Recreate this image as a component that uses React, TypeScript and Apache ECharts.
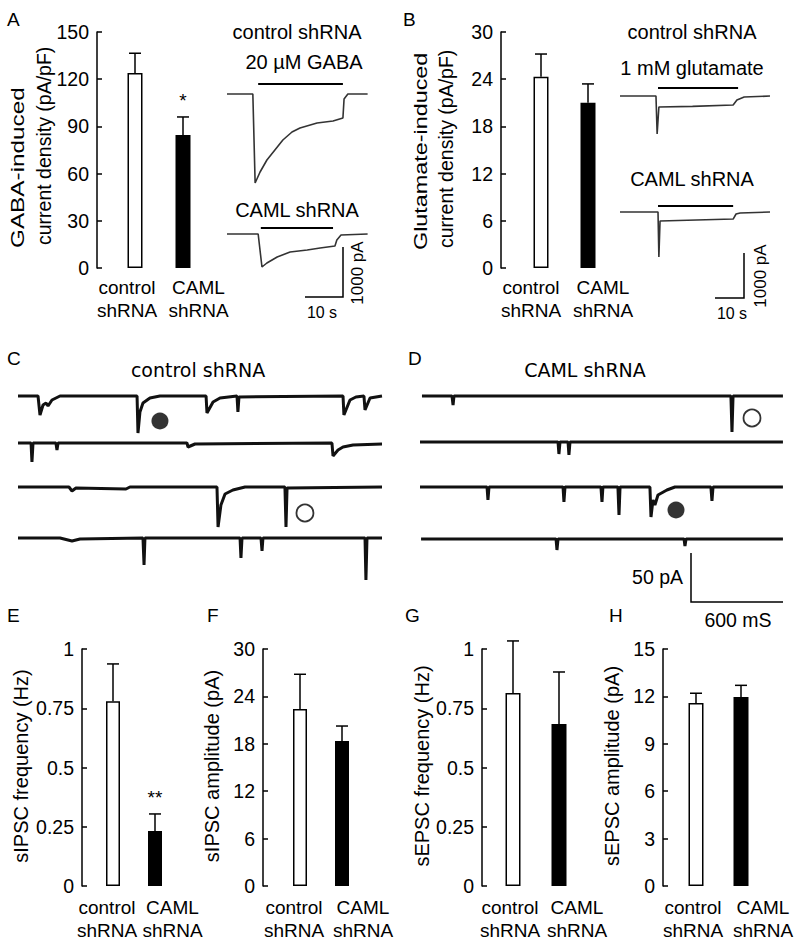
import React, { useEffect, useRef } from "react";
import * as echarts from "echarts";

// ---------- bar chart data ----------
const barCategories = ["control shRNA", "CAML shRNA"];
const gabaDensity = [124, 84.5];
const gabaDensityErr = [136.5, 96];
const gabaMarks = ["", "*"];
const gluDensity = [24.3, 21.0];
const gluDensityErr = [27.2, 23.4];
const sipscFreq = [0.78, 0.232];
const sipscFreqErr = [0.937, 0.304];
const sipscFreqMarks = ["", "**"];
const sipscAmp = [22.4, 18.35];
const sipscAmpErr = [26.8, 20.25];
const sepscFreq = [0.814, 0.684];
const sepscFreqErr = [1.034, 0.903];
const sepscAmp = [11.58, 11.96];
const sepscAmpErr = [12.2, 12.7];
const noMarks = ["", ""];

// ---------- current traces (time, current) ----------
// A: GABA responses (s, pA)
const aCtrlTrace = [[0, 0], [6.8, 0], [7.4, -1780], [8.7, -1560], [10.5, -1320], [12.6, -1120], [14.7, -920], [17.1, -760], [19.2, -680], [23.7, -580], [27.9, -540], [30.5, -480], [30.8, -100], [31.8, 0], [37, 0]];
const aCamlTrace = [[0, 0], [8.2, 0], [9.2, -660], [10.5, -580], [13.2, -460], [16.6, -360], [21.1, -320], [24.5, -280], [28.4, -240], [28.9, -120], [30.0, -20], [37, 0]];
const aCtrlDrug = [[8.2, 200], [30.5, 200]];
const aCamlDrug = [[8.9, 120], [27.9, 120]];
// B: glutamate responses (s, pA)
const bCtrlTrace = [[0, 0], [12.4, 0], [12.8, -844], [13.4, -244], [25, -230], [39.0, -200], [40.3, -89], [42.8, -22], [51.7, 0]];
const bCamlTrace = [[0, 0], [13.1, 0], [13.4, -1000], [13.8, -200], [39.0, -156], [40.0, -44], [41.4, -22], [51.7, 0]];
const bCtrlDrug = [[13.1, 178], [40.7, 178]];
const bCamlDrug = [[13.1, 133], [39.0, 133]];
// C: control shRNA spontaneous currents (ms, pA)
const cRow1 = [[0, 0], [132, 0], [145, -19], [165, -9], [185, -7], [198, -10], [224, -4], [277, 0], [785, 0], [791, -37], [804, -16], [824, -7], [870, -2], [936, 0], [1240, 0], [1246, -17], [1286, -6], [1332, -2], [1444, 0], [1450, -16], [1457, -1], [2143, 0], [2149, -19], [2189, -4], [2228, -1], [2281, 0], [2288, -14], [2321, -2], [2400, 0]];
const cRow2 = [[0, 0], [86, 0], [92, -19], [99, 0], [250, 0], [257, -7], [264, 0], [1114, 0], [1121, -4], [1167, -1], [2070, 0], [2077, -13], [2110, -7], [2143, -4], [2209, -2], [2400, -1]];
const cRow3 = [[0, 0], [336, 0], [356, -4], [382, -1], [712, -2], [738, 0], [1312, 0], [1319, -40], [1338, -18], [1365, -7], [1417, -3], [1497, 0], [1760, 0], [1767, -40], [1774, -1], [2400, 0]];
const cRow4 = [[0, 0], [277, 0], [356, -3], [409, -1], [824, 0], [831, -27], [837, 0], [1464, 0], [1470, -20], [1477, 0], [1602, 0], [1609, -13], [1615, 0], [2288, 0], [2294, -42], [2301, 0], [2400, 0]];
// D: CAML shRNA spontaneous currents (ms, pA)
const dRow1 = [[13, 0], [211, 0], [218, -9], [224, 0], [2050, 0], [2057, -36], [2064, 0], [2393, 0]];
const dRow2 = [[0, 0], [910, 0], [916, -12], [923, 0], [976, 0], [982, -13], [989, 0], [2393, 0]];
const dRow3 = [[0, 0], [442, 0], [448, -13], [455, 0], [943, 0], [949, -15], [956, 0], [1193, 0], [1200, -15], [1206, 0], [1305, 0], [1312, -28], [1319, 0], [1516, 0], [1523, -30], [1536, -13], [1549, -18], [1569, -8], [1628, -3], [1681, 0], [1918, 0], [1925, -14], [1932, 0], [2393, 0]];
const dRow4 = [[7, 0], [897, 0], [903, -11], [910, 0], [1741, 0], [1747, -7], [1754, 0], [2393, 0]];
// event markers (ms, pA)
const cFilledMark = [[936, -25]];
const cOpenMark = [[1892, -26]];
const dOpenMark = [[2189, -22]];
const dFilledMark = [[1688, -23]];

const FONT = "'Liberation Sans', Arial, Helvetica, sans-serif";
const FONT2 = "'DejaVu Sans', Verdana, sans-serif";

export default function App() {
  const ref = useRef<HTMLDivElement>(null);

  useEffect(() => {
    if (!ref.current) return;
    const chart = echarts.init(ref.current, null, { renderer: "svg" });

    const grids: any[] = [];
    const xAxes: any[] = [];
    const yAxes: any[] = [];
    const series: any[] = [];

    // ---------------- bar panels ----------------
    const barPanels = [
      { vals: gabaDensity, errs: gabaDensityErr, marks: gabaMarks, max: 150, interval: 30, left: 111, top: 32, width: 96, height: 236, offset: 14, bw: 15, padR: 16, padL: 31, margin: 8 },
      { vals: gluDensity, errs: gluDensityErr, marks: noMarks, max: 30, interval: 6, left: 517.5, top: 32, width: 94, height: 236, offset: 16.5, bw: 15, padR: 20, padL: 30, margin: 8 },
      { vals: sipscFreq, errs: sipscFreqErr, marks: sipscFreqMarks, max: 1, interval: 0.25, left: 92, top: 649, width: 84, height: 237, offset: 10, bw: 14, padR: 12, padL: 35, margin: 10 },
      { vals: sipscAmp, errs: sipscAmpErr, marks: noMarks, max: 30, interval: 6, left: 279, top: 649, width: 84, height: 237, offset: 16, bw: 14, padR: 12, padL: 42, margin: 10 },
      { vals: sepscFreq, errs: sepscFreqErr, marks: noMarks, max: 1, interval: 0.25, left: 490, top: 649, width: 92, height: 237, offset: 8, bw: 15, padR: 6, padL: 36, margin: 10 },
      { vals: sepscAmp, errs: sepscAmpErr, marks: noMarks, max: 15, interval: 3, left: 673.5, top: 649, width: 90, height: 237, offset: 10.5, bw: 15, padR: 6, padL: 44, margin: 10 },
    ];

    barPanels.forEach((p) => {
      const gi = grids.length;
      grids.push({ left: p.left, top: p.top, width: p.width, height: p.height });
      xAxes.push({
        type: "category",
        gridIndex: gi,
        data: barCategories,
        axisLine: { show: false },
        axisTick: { show: false },
        axisLabel: {
          margin: p.margin,
          interval: 0,
          formatter: (_v: string, i: number) => {
            const parts = barCategories[i].split(" ");
            return i === 0 ? `{c|${parts[0]}}\n{c|${parts[1]}}` : `{k|${parts[0]}}\n{k|${parts[1]}}`;
          },
          rich: {
            c: { fontSize: 19, fontFamily: FONT, color: "#000", lineHeight: 23, padding: [0, p.padR, 0, 0] },
            k: { fontSize: 19, fontFamily: FONT, color: "#000", lineHeight: 23, padding: [0, 0, 0, p.padL] },
          },
        },
      });
      yAxes.push({
        type: "value",
        gridIndex: gi,
        min: 0,
        max: p.max,
        interval: p.interval,
        offset: p.offset,
        axisLine: { show: true, lineStyle: { color: "#000", width: 1.5 } },
        axisTick: { show: true, inside: true, length: 5, lineStyle: { color: "#000", width: 1.5 } },
        axisLabel: { color: "#000", fontSize: 19.5, fontFamily: FONT, margin: 8 },
        splitLine: { show: false },
      });
      series.push({
        type: "bar",
        xAxisIndex: gi,
        yAxisIndex: gi,
        barWidth: p.bw,
        silent: true,
        data: p.vals.map((v, i) => ({
          value: v,
          itemStyle: i === 0
            ? { color: "#fff", borderColor: "#000", borderWidth: 1.5 }
            : { color: "#000", borderColor: "#000", borderWidth: 1.5 },
        })),
      });
      const marks = p.marks;
      series.push({
        type: "custom",
        xAxisIndex: gi,
        yAxisIndex: gi,
        clip: false,
        silent: true,
        z: 5,
        data: p.vals.map((v, i) => [i, v, p.errs[i]]),
        renderItem: (params: any, api: any) => {
          const c = api.value(0);
          const p0 = api.coord([c, api.value(1)]);
          const p1 = api.coord([c, api.value(2)]);
          const children: any[] = [
            { type: "line", shape: { x1: p0[0], y1: p0[1], x2: p1[0], y2: p1[1] }, style: { stroke: "#000", lineWidth: 1.5 } },
            { type: "line", shape: { x1: p1[0] - 6, y1: p1[1], x2: p1[0] + 6, y2: p1[1] }, style: { stroke: "#000", lineWidth: 1.5 } },
          ];
          const m = marks[params.dataIndex];
          if (m) {
            children.push({
              type: "text",
              x: p1[0],
              y: p1[1] - 16,
              style: { text: m, fill: "#000", fontSize: 19, fontFamily: FONT, align: "center", verticalAlign: "middle" },
            });
          }
          return { type: "group", children };
        },
      });
    });

    // ---------------- trace panels ----------------
    const addTraceGrid = (left: number, top: number, width: number, height: number, xmax: number, ymin: number, ymax: number, xmin = 0) => {
      const gi = grids.length;
      grids.push({ left, top, width, height });
      xAxes.push({ type: "value", gridIndex: gi, min: xmin, max: xmax, show: false, splitLine: { show: false } });
      yAxes.push({ type: "value", gridIndex: gi, min: ymin, max: ymax, show: false, splitLine: { show: false } });
      return gi;
    };
    const line = (gi: number, data: number[][], color: string, width: number) => ({
      type: "line",
      xAxisIndex: gi,
      yAxisIndex: gi,
      data,
      symbol: "none",
      showSymbol: false,
      silent: true,
      clip: false,
      lineStyle: { color, width },
    });
    const marker = (gi: number, data: number[][], filled: boolean) => ({
      type: "scatter",
      xAxisIndex: gi,
      yAxisIndex: gi,
      data,
      symbol: "circle",
      symbolSize: 17,
      silent: true,
      itemStyle: filled ? { color: "#000" } : { color: "#fff", borderColor: "#000", borderWidth: 1.8 },
    });

    // A traces: 3.8 px/s, 20 pA/px
    let g = addTraceGrid(227, 79, 141, 110, 37.1, -1900, 300);
    series.push(line(g, aCtrlTrace, "#333", 1.6));
    series.push(line(g, aCtrlDrug, "#000", 2));
    g = addTraceGrid(227, 219, 141, 55, 37.1, -800, 300);
    series.push(line(g, aCamlTrace, "#333", 1.6));
    series.push(line(g, aCamlDrug, "#000", 2));

    // B traces: 2.9 px/s, 22.2 pA/px
    g = addTraceGrid(620, 82.5, 150, 58.6, 51.7, -1000, 300);
    series.push(line(g, bCtrlTrace, "#333", 1.6));
    series.push(line(g, bCtrlDrug, "#000", 2));
    g = addTraceGrid(620, 198.5, 150, 63.1, 51.7, -1100, 300);
    series.push(line(g, bCamlTrace, "#333", 1.6));
    series.push(line(g, bCamlDrug, "#000", 2));

    // C and D rows: 6.59 ms/px, 1 pA/px
    const cBase = [396, 443, 487, 538];
    const dBase = [396, 442, 487, 539];
    const cRows = [cRow1, cRow2, cRow3, cRow4];
    const dRows = [dRow1, dRow2, dRow3, dRow4];
    cRows.forEach((r, i) => {
      const gi = addTraceGrid(18, cBase[i] - 10, 364, 60, 2400, -50, 10);
      series.push(line(gi, r, "#111", 3));
      if (i === 0) series.push(marker(gi, cFilledMark, true));
      if (i === 2) series.push(marker(gi, cOpenMark, false));
    });
    dRows.forEach((r, i) => {
      const gi = addTraceGrid(420, dBase[i] - 10, 364, 60, 2400, -50, 10);
      series.push(line(gi, r, "#111", 3));
      if (i === 0) series.push(marker(gi, dOpenMark, false));
      if (i === 2) series.push(marker(gi, dFilledMark, true));
    });

    // ---------------- annotations ----------------
    const txt = (text: string, x: number, y: number, size: number, extra: any = {}, family = FONT) => ({
      type: "text",
      x,
      y,
      silent: true,
      ...extra,
      style: {
        text,
        fill: "#000",
        fontSize: size,
        fontFamily: family,
        align: "center",
        verticalAlign: "middle",
        ...(extra.style || {}),
      },
    });
    const bar = (pts: number[][]) => ({
      type: "polyline",
      silent: true,
      shape: { points: pts },
      style: { stroke: "#000", lineWidth: 1.5, fill: null },
    });
    const R = Math.PI / 2;
    const rotLeft = { align: "left", verticalAlign: "top" };

    const elements: any[] = [
      // panel letters
      txt("A", 7, 19, 19, { style: { align: "left" } }),
      txt("B", 403, 19, 19, { style: { align: "left" } }),
      txt("C", 7, 358, 19, { style: { align: "left" } }),
      txt("D", 408, 358, 19, { style: { align: "left" } }),
      txt("E", 7, 615, 19, { style: { align: "left" } }),
      txt("F", 207, 615, 19, { style: { align: "left" } }),
      txt("G", 405, 615, 19, { style: { align: "left" } }),
      txt("H", 609, 615, 19, { style: { align: "left" } }),
      // y titles
      txt("GABA-induced", 8, 248, 19, { rotation: R, scaleX: 1.28, style: rotLeft }),
      txt("current density (pA/pF)", 34, 245, 19.5, { rotation: R, style: rotLeft }),
      txt("Glutamate-induced", 411, 250, 19, { rotation: R, scaleX: 1.23, style: rotLeft }),
      txt("current density (pA/pF)", 436, 248, 19.5, { rotation: R, style: rotLeft }),
      txt("sIPSC frequency (Hz)", 21, 766, 20, { rotation: R }),
      txt("sIPSC amplitude (pA)", 212, 766, 20, { rotation: R }),
      txt("sEPSC frequency (Hz)", 422, 766, 20, { rotation: R }),
      txt("sEPSC amplitude (pA)", 612, 766, 20, { rotation: R }),
      // A trace labels
      txt("control shRNA", 297, 32, 20),
      txt("20 \u00b5M GABA", 304, 62, 20),
      txt("CAML shRNA", 297, 210, 20),
      txt("1000 pA", 357, 273, 17, { rotation: R }),
      txt("10 s", 322, 312, 16),
      bar([[305, 297], [343, 297], [343, 247]]),
      // B trace labels
      txt("control shRNA", 692, 32, 20),
      txt("1 mM glutamate", 692, 68, 20),
      txt("CAML shRNA", 692, 179, 20),
      txt("1000 pA", 760, 276, 17, { rotation: R }),
      txt("10 s", 732, 313, 16),
      bar([[715, 298], [744, 298], [744, 253]]),
      // C / D titles
      txt("control shRNA", 198, 370, 19, {}, FONT2),
      txt("CAML shRNA", 585, 370, 19, {}, FONT2),
      // C/D scale bar
      bar([[691, 553], [691, 602], [783, 602]]),
      txt("50 pA", 683, 577, 19.5, { style: { align: "right" } }),
      txt("600 mS", 738, 620, 19.5),
    ];

    chart.setOption({
      animation: false,
      backgroundColor: "#fff",
      grid: grids,
      xAxis: xAxes,
      yAxis: yAxes,
      series,
      graphic: { elements },
    });

    return () => chart.dispose();
  }, []);

  return (
    <div
      ref={ref}
      style={{ position: "absolute", left: 0, top: 0, width: 800, height: 946, background: "#fff" }}
    />
  );
}
